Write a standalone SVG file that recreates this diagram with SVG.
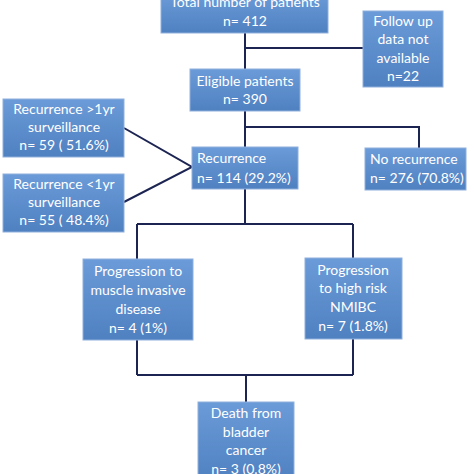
<svg xmlns="http://www.w3.org/2000/svg" width="474" height="474" viewBox="0 0 474 474">
<defs>
<linearGradient id="g" x1="0" y1="0" x2="0" y2="1">
<stop offset="0" stop-color="#6b9bd8"/>
<stop offset="1" stop-color="#4f80c0"/>
</linearGradient>
</defs>
<style>
.box{fill:url(#g);stroke:#8fb0dc;stroke-width:1}
.t{font-family:Lato,"Open Sans",sans-serif;font-size:14px;fill:#ffffff}
.c{text-anchor:middle}
.ln{fill:none;stroke:#1c2452;stroke-width:2}
</style>
<rect width="474" height="474" fill="#ffffff"/>
<g id="connectors">
<path class="ln" d="M245,33 V69 M245,48 H363"/>
<path class="ln" d="M245,111 V147 M245,127 H419 V148"/>
<path class="ln" d="M124,128 L192,167 L124,202"/>
<path class="ln" d="M245,189 V224 M137,224 H353 M137,224 V259 M353,224 V258"/>
<path class="ln" d="M137,340 V375 M353,339 V375 M137,375 H353 M246,375 V402"/>
</g>
<g id="total">
<rect class="box" x="161" y="-6" width="167" height="39"/>
<text class="t c" x="245" y="7">Total number of patients</text>
<text class="t c" x="245" y="26">n= 412</text>
</g>
<g id="followup">
<rect class="box" x="363" y="11" width="80" height="76"/>
<text class="t c" x="403" y="26">Follow up</text>
<text class="t c" x="403" y="44">data not</text>
<text class="t c" x="403" y="63">available</text>
<text class="t c" x="403" y="81">n=22</text>
</g>
<g id="eligible">
<rect class="box" x="190" y="69" width="110" height="42"/>
<text class="t c" x="245" y="86">Eligible patients</text>
<text class="t c" x="245" y="104">n= 390</text>
</g>
<g id="rec-gt1">
<rect class="box" x="3" y="99" width="121" height="58"/>
<text class="t c" x="64" y="114">Recurrence &gt;1yr</text>
<text class="t c" x="64" y="132">surveillance</text>
<text class="t c" x="64" y="150">n= 59 ( 51.6%)</text>
</g>
<g id="rec-lt1">
<rect class="box" x="3" y="174" width="121" height="58"/>
<text class="t c" x="64" y="189">Recurrence &lt;1yr</text>
<text class="t c" x="64" y="207">surveillance</text>
<text class="t c" x="64" y="225">n= 55 ( 48.4%)</text>
</g>
<g id="recurrence">
<rect class="box" x="192" y="147" width="106" height="42"/>
<text class="t" x="197" y="163">Recurrence</text>
<text class="t" x="197" y="183">n= 114 (29.2%)</text>
</g>
<g id="norecurrence">
<rect class="box" x="365" y="148" width="101" height="42"/>
<text class="t" x="370" y="164">No recurrence</text>
<text class="t" x="370" y="183">n= 276 (70.8%)</text>
</g>
<g id="prog-mi">
<rect class="box" x="83" y="259" width="110" height="81"/>
<text class="t c" x="138" y="276">Progression to</text>
<text class="t c" x="138" y="295">muscle invasive</text>
<text class="t c" x="138" y="314">disease</text>
<text class="t c" x="138" y="333">n= 4 (1%)</text>
</g>
<g id="prog-hr">
<rect class="box" x="305" y="258" width="97" height="81"/>
<text class="t c" x="353" y="275">Progression</text>
<text class="t c" x="353" y="293">to high risk</text>
<text class="t c" x="353" y="312">NMIBC</text>
<text class="t c" x="353" y="331">n= 7 (1.8%)</text>
</g>
<g id="death">
<rect class="box" x="198" y="402" width="96" height="80"/>
<text class="t c" x="246" y="418">Death from</text>
<text class="t c" x="246" y="437">bladder</text>
<text class="t c" x="246" y="455">cancer</text>
<text class="t c" x="246" y="474">n= 3 (0.8%)</text>
</g>
</svg>
